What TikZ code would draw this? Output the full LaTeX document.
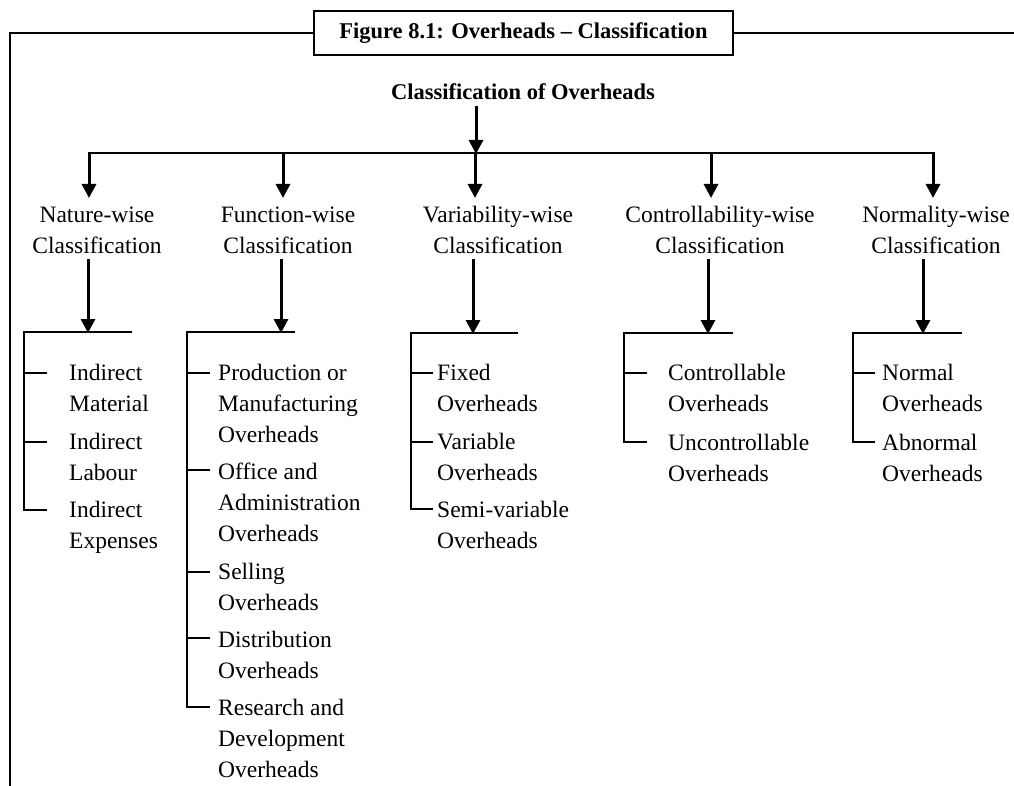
\documentclass[tikz,border=0pt]{standalone}
\usepackage{fontspec}
\setmainfont{Liberation Serif}
\usetikzlibrary{arrows.meta}

% multi-line labels: first row sits on the node's baseline
\newcommand\lefttext[1]{\begin{tabular}[t]{@{}l@{}}#1\end{tabular}}
\newcommand\midtext[1]{\begin{tabular}[t]{@{}c@{}}#1\end{tabular}}

\tikzset{
  frame/.style={line width=2.4pt},
  bar/.style={line width=2.2pt},
  arr/.style={line width=3pt, -{Triangle[length=14pt,width=14pt]}},
  cat/.style={inner sep=0pt, anchor=base, font=\fontsize{23.5}{31}\selectfont},
  itm/.style={inner sep=0pt, anchor=base west, font=\fontsize{23.5}{31}\selectfont},
}

\begin{document}
\begin{tikzpicture}[x=1pt,y=-1pt]
\useasboundingbox (0,0) rectangle (1014,786);

% caption box and surrounding frame
\node[draw, frame, minimum width=419pt, minimum height=44pt, inner sep=0pt,
      font=\bfseries\fontsize{22.5}{26}\selectfont] (title) at (523.5,33)
      {Figure 8.1: Overheads – Classification};
\draw[frame] (title.west) -- (10,33) -- (10,786);
\draw[frame] (title.east) -- (1014,33);

% root
\node[inner sep=0pt, anchor=base, font=\bfseries\fontsize{22.5}{26}\selectfont] (root) at (523,100)
      {Classification of Overheads};
\coordinate (hub) at (476,154);
\draw[arr] (476,106) -- (hub);
\draw[bar] (88,153) -- (935,153);

% five classification heads
\node[cat] (nat) at (97,223)  {\midtext{Nature-wise\\Classification}};
\node[cat] (fun) at (288,223) {\midtext{Function-wise\\Classification}};
\node[cat] (var) at (498,223) {\midtext{Variability-wise\\Classification}};
\node[cat] (con) at (720,223) {\midtext{Controllability-wise\\Classification}};
\node[cat] (nor) at (936,223) {\midtext{Normality-wise\\Classification}};

\coordinate (natA) at (89,153);  \draw[arr] (natA) -- (89,198);
\coordinate (funA) at (283,153); \draw[arr] (funA) -- (283,198);
\coordinate (varA) at (475,153); \draw[arr] (varA) -- (475,198);
\coordinate (conA) at (711,153); \draw[arr] (conA) -- (711,198);
\coordinate (norA) at (933,153); \draw[arr] (norA) -- (933,198);

% arrows down to the branch bars
\coordinate (natB) at (88,333);  \draw[arr] (88,259) -- (natB);
\coordinate (funB) at (281,333); \draw[arr] (281,259) -- (funB);
\coordinate (varB) at (473,334); \draw[arr] (473,259) -- (varB);
\coordinate (conB) at (708,334); \draw[arr] (708,259) -- (conB);
\coordinate (norB) at (923,334); \draw[arr] (923,259) -- (norB);

% Nature-wise branch
\draw[bar] (132,332) -- (24,332) -- (24,510) -- (47,510);
\draw[bar] (24,373) -- (47,373);
\draw[bar] (24,442) -- (47,442);
\node[itm] (n1) at (69,380) {\lefttext{Indirect\\Material}};
\node[itm] (n2) at (69,449) {\lefttext{Indirect\\Labour}};
\node[itm] (n3) at (69,517) {\lefttext{Indirect\\Expenses}};

% Function-wise branch
\draw[bar] (295,332) -- (187,332) -- (187,707) -- (210,707);
\draw[bar] (187,373) -- (210,373);
\draw[bar] (187,470) -- (210,470);
\draw[bar] (187,572) -- (210,572);
\draw[bar] (187,638) -- (210,638);
\node[itm] (f1) at (218,380) {\lefttext{Production or\\Manufacturing\\Overheads}};
\node[itm] (f2) at (218,479) {\lefttext{Office and\\Administration\\Overheads}};
\node[itm] (f3) at (218,579) {\lefttext{Selling\\Overheads}};
\node[itm] (f4) at (218,647) {\lefttext{Distribution\\Overheads}};
\node[itm] (f5) at (218,715) {\lefttext{Research and\\Development\\Overheads}};

% Variability-wise branch
\draw[bar] (518,333) -- (411,333) -- (411,509) -- (433,509);
\draw[bar] (411,373) -- (433,373);
\draw[bar] (411,442) -- (433,442);
\node[itm] (v1) at (437,380) {\lefttext{Fixed\\Overheads}};
\node[itm] (v2) at (437,449) {\lefttext{Variable\\Overheads}};
\node[itm] (v3) at (437,517) {\lefttext{Semi-variable\\Overheads}};

% Controllability-wise branch
\draw[bar] (733,333) -- (624,333) -- (624,442) -- (647,442);
\draw[bar] (624,373) -- (647,373);
\node[itm] (c1) at (668,380) {\lefttext{Controllable\\Overheads}};
\node[itm] (c2) at (668,450) {\lefttext{Uncontrollable\\Overheads}};

% Normality-wise branch
\draw[bar] (962,333) -- (853,333) -- (853,442) -- (875,442);
\draw[bar] (853,373) -- (875,373);
\node[itm] (m1) at (882,380) {\lefttext{Normal\\Overheads}};
\node[itm] (m2) at (882,450) {\lefttext{Abnormal\\Overheads}};
\end{tikzpicture}
\end{document}
